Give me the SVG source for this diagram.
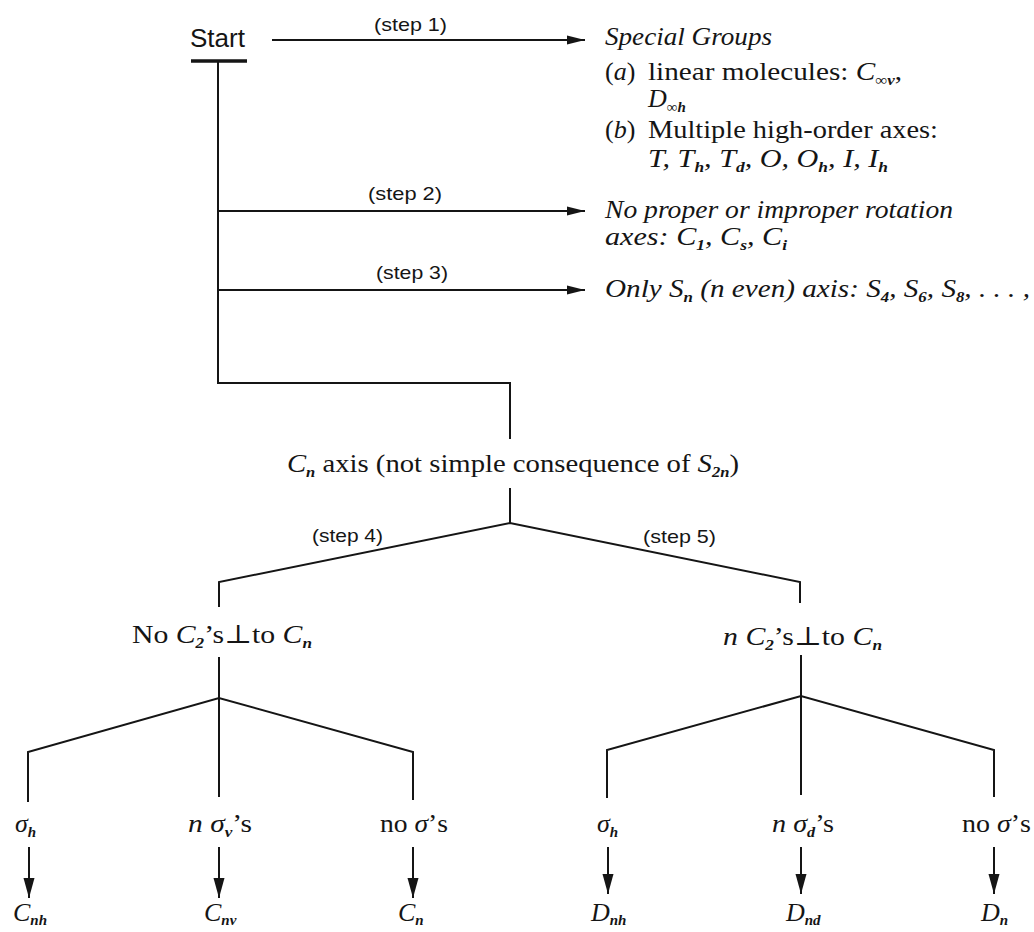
<svg xmlns="http://www.w3.org/2000/svg" width="1034" height="932" viewBox="0 0 1034 932">
<style>
.t{font-family:"Liberation Serif","DejaVu Serif",serif;font-size:26px;fill:#151515}
.i{font-style:italic}
.s{font-size:15px;font-style:italic;font-weight:bold}
.lbl{font-family:"Liberation Sans","DejaVu Sans",sans-serif;font-size:19px;fill:#151515}
.st{font-family:"Liberation Sans","DejaVu Sans",sans-serif;font-size:26px;fill:#151515}
.ln{fill:none;stroke:#151515;stroke-width:2}
</style>
<defs>
<marker id="ah" markerUnits="userSpaceOnUse" markerWidth="20" markerHeight="10" refX="18" refY="5" orient="auto">
<path d="M0,0.5 L18,5 L0,9.5 z" fill="#151515"/>
</marker>
<marker id="ad" markerUnits="userSpaceOnUse" markerWidth="22" markerHeight="12" refX="20" refY="6" orient="auto">
<path d="M0,0.5 L20,6 L0,11.5 z" fill="#151515"/>
</marker>
</defs>
<rect width="1034" height="932" fill="#ffffff"/>

<g id="connectors">
<line class="ln" x1="191" y1="61" x2="247" y2="61" style="stroke-width:3.5"/>
<line class="ln" x1="272" y1="40" x2="585" y2="40" marker-end="url(#ah)"/>
<path class="ln" d="M218,61 V383 H510 V439"/>
<line class="ln" x1="218" y1="211" x2="585" y2="211" marker-end="url(#ah)"/>
<line class="ln" x1="218" y1="290" x2="585" y2="290" marker-end="url(#ah)"/>
<path class="ln" d="M510,488 V523"/>
<path class="ln" d="M219,607 V582 L510,523 L800,582 V603"/>
<path class="ln" d="M219,657 V797"/>
<path class="ln" d="M28,802 V752 L219,698 L413,752 V800"/>
<path class="ln" d="M801,655 V795"/>
<path class="ln" d="M607,798 V750 L801,696 L994,750 V797"/>
<line class="ln" x1="29" y1="847" x2="29" y2="898" marker-end="url(#ad)"/>
<line class="ln" x1="219" y1="847" x2="219" y2="898" marker-end="url(#ad)"/>
<line class="ln" x1="413" y1="847" x2="413" y2="898" marker-end="url(#ad)"/>
<line class="ln" x1="608" y1="847" x2="608" y2="894" marker-end="url(#ad)"/>
<line class="ln" x1="801" y1="847" x2="801" y2="894" marker-end="url(#ad)"/>
<line class="ln" x1="994" y1="847" x2="994" y2="894" marker-end="url(#ad)"/>
<text class="lbl" x="374" y="31" textLength="73" lengthAdjust="spacingAndGlyphs">(step 1)</text>
<text class="lbl" x="368" y="200" textLength="74" lengthAdjust="spacingAndGlyphs">(step 2)</text>
<text class="lbl" x="376" y="279" textLength="72" lengthAdjust="spacingAndGlyphs">(step 3)</text>
<text class="lbl" x="312" y="542" textLength="71" lengthAdjust="spacingAndGlyphs">(step 4)</text>
<text class="lbl" x="643" y="543" textLength="73" lengthAdjust="spacingAndGlyphs">(step 5)</text>
</g>

<g id="start">
<text class="st" x="190" y="47" textLength="55" lengthAdjust="spacingAndGlyphs">Start</text>
</g>

<g id="special-groups">
<text class="t i" x="605" y="45" textLength="167" lengthAdjust="spacingAndGlyphs">Special Groups</text>
<text class="t" x="605" y="80">(<tspan class="i">a</tspan>)</text>
<text class="t" x="648" y="80" textLength="254" lengthAdjust="spacingAndGlyphs">linear molecules: <tspan class="i">C</tspan><tspan class="s" dy="5">∞v</tspan><tspan dy="-5">,</tspan></text>
<text class="t" x="648" y="107"><tspan class="i">D</tspan><tspan class="s" dy="5">∞h</tspan></text>
<text class="t" x="605" y="138">(<tspan class="i">b</tspan>)</text>
<text class="t" x="648" y="138" textLength="290" lengthAdjust="spacingAndGlyphs">Multiple high-order axes:</text>
<text class="t i" x="648" y="167" textLength="240" lengthAdjust="spacingAndGlyphs">T, T<tspan class="s" dy="5">h</tspan><tspan dy="-5">, T</tspan><tspan class="s" dy="5">d</tspan><tspan dy="-5">, O, O</tspan><tspan class="s" dy="5">h</tspan><tspan dy="-5">, I, I</tspan><tspan class="s" dy="5">h</tspan></text>
</g>

<g id="no-axes">
<text class="t i" x="605" y="218" textLength="348" lengthAdjust="spacingAndGlyphs">No proper or improper rotation</text>
<text class="t i" x="605" y="245" textLength="182" lengthAdjust="spacingAndGlyphs">axes: C<tspan class="s" dy="5">1</tspan><tspan dy="-5">, C</tspan><tspan class="s" dy="5">s</tspan><tspan dy="-5">, C</tspan><tspan class="s" dy="5">i</tspan></text>
</g>

<g id="only-sn">
<text class="t i" x="605" y="297" textLength="425" lengthAdjust="spacingAndGlyphs">Only S<tspan class="s" dy="5">n</tspan><tspan dy="-5"> (n even) axis: S</tspan><tspan class="s" dy="5">4</tspan><tspan dy="-5">, S</tspan><tspan class="s" dy="5">6</tspan><tspan dy="-5">, S</tspan><tspan class="s" dy="5">8</tspan><tspan dy="-5">, . . . ,</tspan></text>
</g>

<g id="cn-axis">
<text class="t" x="287" y="472" textLength="452" lengthAdjust="spacingAndGlyphs"><tspan class="i">C</tspan><tspan class="s" dy="5">n</tspan><tspan dy="-5"> axis (not simple consequence of </tspan><tspan class="i">S</tspan><tspan class="s" dy="5">2n</tspan><tspan dy="-5">)</tspan></text>
</g>

<g id="no-c2">
<text class="t" x="132" y="643" textLength="180" lengthAdjust="spacingAndGlyphs">No <tspan class="i">C</tspan><tspan class="s" dy="5">2</tspan><tspan dy="-5">’s⊥to </tspan><tspan class="i">C</tspan><tspan class="s" dy="5">n</tspan></text>
</g>

<g id="n-c2">
<text class="t" x="723" y="645" textLength="159" lengthAdjust="spacingAndGlyphs"><tspan class="i">n C</tspan><tspan class="s" dy="5">2</tspan><tspan dy="-5">’s⊥to </tspan><tspan class="i">C</tspan><tspan class="s" dy="5">n</tspan></text>
</g>

<g id="sigma-h-left">
<text class="t i" x="15" y="832">σ<tspan class="s" dy="5">h</tspan></text>
</g>
<g id="n-sigma-v">
<text class="t" x="188" y="832" textLength="64" lengthAdjust="spacingAndGlyphs"><tspan class="i">n σ</tspan><tspan class="s" dy="5">v</tspan><tspan dy="-5">’s</tspan></text>
</g>
<g id="no-sigma-left">
<text class="t" x="380" y="832" textLength="68" lengthAdjust="spacingAndGlyphs">no <tspan class="i">σ</tspan>’s</text>
</g>
<g id="sigma-h-right">
<text class="t i" x="597" y="832">σ<tspan class="s" dy="5">h</tspan></text>
</g>
<g id="n-sigma-d">
<text class="t" x="772" y="832" textLength="62" lengthAdjust="spacingAndGlyphs"><tspan class="i">n σ</tspan><tspan class="s" dy="5">d</tspan><tspan dy="-5">’s</tspan></text>
</g>
<g id="no-sigma-right">
<text class="t" x="962" y="832" textLength="69" lengthAdjust="spacingAndGlyphs">no <tspan class="i">σ</tspan>’s</text>
</g>

<g id="cnh"><text class="t i" x="13" y="921">C<tspan class="s" dy="4">nh</tspan></text></g>
<g id="cnv"><text class="t i" x="204" y="921">C<tspan class="s" dy="4">nv</tspan></text></g>
<g id="cn"><text class="t i" x="398" y="921">C<tspan class="s" dy="4">n</tspan></text></g>
<g id="dnh"><text class="t i" x="591" y="921">D<tspan class="s" dy="4">nh</tspan></text></g>
<g id="dnd"><text class="t i" x="786" y="921">D<tspan class="s" dy="4">nd</tspan></text></g>
<g id="dn"><text class="t i" x="981" y="921">D<tspan class="s" dy="4">n</tspan></text></g>
</svg>
